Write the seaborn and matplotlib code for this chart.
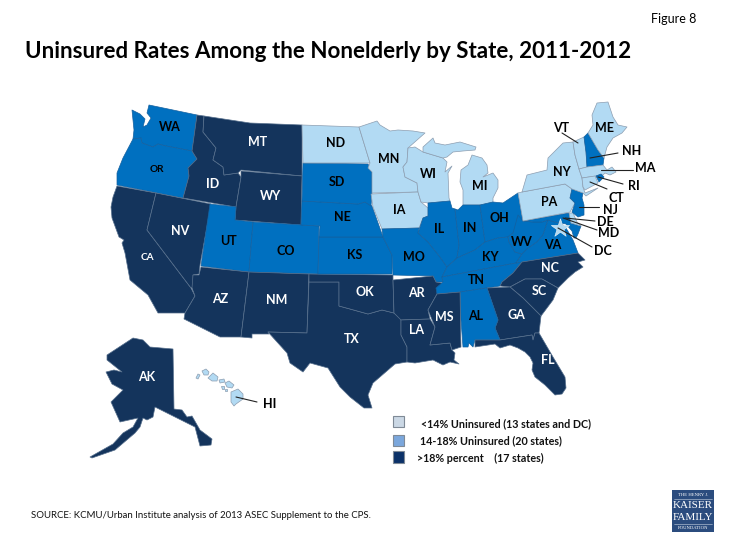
import matplotlib
matplotlib.use("Agg")
import matplotlib.pyplot as plt
from matplotlib.patches import Polygon, Rectangle
import seaborn as sns

sns.set_theme(style="white")
plt.rcParams['font.family'] = ['Lato', 'DejaVu Sans']

TITLE = "Uninsured Rates Among the Nonelderly by State, 2011-2012"
FIGURE_TAG = "Figure 8"
SOURCE = "SOURCE: KCMU/Urban Institute analysis of 2013 ASEC Supplement to the CPS."

TIER_LOW = ["ND","MN","IA","WI","MI","PA","NY","VT","ME","MA","CT","DE","HI","DC"]
TIER_MID = ["WA","OR","UT","CO","SD","NE","KS","MO","IL","IN","OH","KY","TN","WV","VA","AL","NH","NJ","RI","MD"]
TIER_HIGH = ["CA","NV","ID","MT","WY","AZ","NM","TX","OK","AR","LA","MS","GA","SC","NC","FL","AK"]

LEGEND_TEXT = ["<14% Uninsured (13 states and DC)", "14-18% Uninsured (20 states)", ">18% percent    (17 states)"]
LEGEND_COLORS = ["#CBD8E5", "#7BA7DC", "#0B3168"]
TIER_COLORS = {"low": "#B2DAF3", "mid": "#0070C0", "high": "#14345C"}
TIER_EDGES = {"low": "#8C9DB0", "mid": "#14609F", "high": "#566F8C"}

# Digitised state outlines, in reference-picture coordinates
OUTLINES = {
 "WA": [[(132,110),(140,114),(145,119),(143,127),(147,125),(151,118),(147,113),(149,105),(197,115),(192,151),(166,146),(158,144),(153,147),(142,143),(141,138),(133,139),(134,130)]],
 "OR": [[(133,139),(141,138),(142,143),(153,147),(158,144),(166,146),(192,151),(197,159),(188,168),(189,176),(183,198),(117,185),(117,173),(123,158)]],
 "CA": [[(117,186),(156,193),(147,230),(191,288),(195,296),(185,313),(158,313),(148,295),(130,280),(125,253),(122,243),(124,240),(119,237),(112,218),(111,207),(113,197)]],
 "NV": [[(156,193),(211,204),(200,265),(199,274),(193,275),(193,287),(191,288),(147,230)]],
 "ID": [[(197,115),(204,116),(203,132),(216,148),(213,160),(223,167),(224,175),(238,173),(241,177),(236,207),(183,198),(189,176),(188,168),(197,159),(192,151)]],
 "MT": [[(204,116),(250,123),(302,125),(302,176),(241,170),(238,173),(224,175),(223,167),(213,160),(216,148),(203,132)]],
 "WY": [[(241,171),(302,176),(301,225),(235,220),(236,207),(241,177)]],
 "UT": [[(210,204),(236,207),(235,220),(253,222),(249,272),(201,266)]],
 "CO": [[(253,222),(319,226),(318,274),(249,272)]],
 "AZ": [[(201,267),(249,272),(241,337),(220,337),(184,319),(185,313),(195,296),(192,288),(193,275),(199,275)]],
 "NM": [[(249,272),(309,274),(307,333),(268,332),(269,334),(252,334),(252,338),(241,337)]],
 "TX": [[(309,282),(339,282),(339,306),(350,309),(368,314),(382,310),(394,313),(401,319),(401,335),(407,347),(407,362),(395,364),(373,383),(368,395),(372,408),(364,408),(350,397),(340,387),(328,368),(310,363),(303,372),(290,363),(287,353),(268,332),(307,333)]],
 "OK": [[(309,274),(393,275),(393,280),(394,313),(382,310),(368,314),(350,309),(339,306),(339,282),(309,282)]],
 "KS": [[(319,237),(383,237),(387,245),(392,255),(392,274),(318,274)]],
 "NE": [[(302,201),(358,204),(365,202),(372,206),(383,237),(319,237),(320,226),(301,225)]],
 "SD": [[(303,163),(368,164),(372,172),(372,193),(371,206),(365,202),(358,204),(302,201)]],
 "ND": [[(302,125),(359,127),(370,163),(303,163)]],
 "MN": [[(359,127),(377,121),(380,125),(390,131),(398,130),(413,131),(425,133),(408,148),(407,162),(403,167),(405,177),(417,183),(418,192),(372,193),(372,172),(368,168),(370,163)]],
 "IA": [[(371,194),(418,192),(421,202),(428,208),(428,216),(423,218),(419,228),(382,229),(373,207)]],
 "MO": [[(382,229),(419,228),(418,233),(428,242),(440,257),(447,267),(442,277),(443,282),(436,282),(433,276),(393,275),(392,255),(387,245),(383,237)]],
 "AR": [[(393,280),(433,276),(436,282),(442,283),(437,294),(428,310),(430,319),(401,320),(394,313)]],
 "LA": [[(401,320),(430,319),(435,327),(430,345),(450,343),(452,350),(455,353),(454,360),(459,364),(450,362),(443,365),(433,360),(415,363),(407,362),(407,347),(401,335)]],
 "WI": [[(408,148),(415,147),(423,152),(443,158),(447,162),(445,172),(452,166),(448,173),(449,198),(450,201),(428,203),(421,202),(418,192),(417,183),(405,177),(403,167),(407,162)]],
 "MI": [[(423,152),(423,147),(433,138),(435,143),(445,145),(460,142),(476,147),(475,150),(463,151),(453,152),(447,157),(443,158)],
        [(463,205),(463,190),(460,182),(461,170),(468,165),(472,155),(482,158),(487,165),(488,173),(483,177),(493,173),(498,180),(498,188),(493,198),(493,202),(480,205)]],
 "IL": [[(428,203),(450,201),(452,208),(455,209),(459,245),(457,258),(447,267),(440,257),(428,242),(418,233),(423,218),(428,216),(428,208)]],
 "IN": [[(455,209),(458,210),(463,205),(480,205),(485,242),(475,250),(457,258),(459,245)]],
 "OH": [[(480,205),(493,202),(503,203),(518,193),(523,221),(513,233),(508,237),(498,238),(485,242)]],
 "KY": [[(442,277),(447,267),(457,258),(475,250),(485,242),(498,238),(508,237),(509,242),(515,252),(522,254),(516,263)]],
 "TN": [[(442,277),(516,263),(522,262),(513,273),(502,282),(500,286),(487,288),(460,292),(437,294),(436,288),(443,282)]],
 "WV": [[(513,233),(518,215),(523,221),(533,222),(542,222),(548,220),(543,235),(537,242),(527,249),(522,254),(515,252),(509,242),(508,237)]],
 "VA": [[(516,263),(578,253),(573,240),(566,228),(562,224),(555,222),(548,220),(543,235),(537,242),(527,249),(522,254)]],
 "MD": [[(523,221),(569,213),(571,223),(581,226),(578,234),(576,238),(574,238),(572,231),(566,224),(555,222),(548,220),(542,222),(533,222)]],
 "DE": [[(569,213),(573,213),(577,222),(581,226),(571,223)]],
 "PA": [[(518,193),(522,192),(565,184),(572,189),(570,198),(575,203),(570,212),(523,221)]],
 "NJ": [[(572,189),(583,193),(582,198),(584,205),(584,215),(578,217),(572,212),(575,203),(570,198)]],
 "NY": [[(522,192),(527,175),(547,170),(548,158),(563,143),(573,142),(575,155),(579,169),(582,178),(583,187),(585,193),(598,188),(586,196),(583,193),(572,189),(565,184)]],
 "VT": [[(573,142),(584,137),(586,152),(587,167),(579,169),(575,155)]],
 "NH": [[(584,137),(588,133),(598,150),(604,158),(603,165),(587,167),(586,152)]],
 "ME": [[(588,133),(593,125),(592,115),(597,103),(608,102),(613,117),(618,125),(627,127),(622,133),(613,138),(607,147),(604,158),(598,150)]],
 "MA": [[(579,169),(587,167),(603,165),(607,170),(612,167),(616,172),(610,175),(605,173),(603,175),(582,178)]],
 "CT": [[(582,178),(595,176),(598,183),(585,190),(583,187)]],
 "RI": [[(596,176),(601,174),(604,177),(599,182)]],
 "NC": [[(522,262),(578,253),(585,260),(578,262),(583,267),(575,272),(568,278),(558,288),(542,279),(525,279),(510,287),(500,286),(502,282),(513,273)]],
 "SC": [[(510,287),(525,279),(542,279),(558,288),(553,300),(541,316),(523,298)]],
 "GA": [[(487,288),(510,287),(523,298),(541,316),(539,333),(535,333),(533,340),(532,335),(500,340),(495,328),(498,320)]],
 "AL": [[(460,292),(487,288),(498,320),(495,328),(500,340),(475,340),(473,347),(469,343),(468,347),(463,347),(461,320)]],
 "MS": [[(437,294),(460,292),(461,347),(452,350),(450,343),(430,345),(435,327),(428,310)]],
 "FL": [[(500,340),(532,335),(533,340),(535,333),(539,333),(553,357),(565,377),(566,388),(562,394),(555,395),(545,385),(535,377),(532,370),(533,363),(530,357),(525,352),(518,348),(510,345),(500,348),(495,344),(475,347),(475,340)]],
 "AK": [[(107,355),(133,338),(143,340),(150,347),(173,349),(174,409),(182,410),(187,417),(192,416),(200,430),(212,439),(211,445),(200,446),(195,427),(155,407),(153,417),(147,420),(143,418),(140,427),(135,433),(115,450),(92,458),(90,457),(113,444),(123,433),(133,427),(138,418),(120,422),(111,402),(123,390),(112,384),(106,372),(114,370),(122,372),(107,360)]],
 "HI": [[(202,371),(206,369),(209,372),(208,375),(204,375)],[(198,374),(200,375),(198,379),(196,378)],
        [(208,378),(213,373),(218,377),(217,381),(212,381)],[(219,380),(224,379),(225,382),(220,383)],
        [(225,383),(229,381),(234,385),(232,388),(227,387)],[(221,386),(224,386),(224,389),(222,389)],
        [(225,389),(227,389),(227,391),(225,391)],
        [(231,392),(238,389),(243,394),(243,399),(236,404),(234,406),(231,402)]],
}

LABELS = {"WA":(170,127),"OR":(157,170),"CA":(147,258),"NV":(180,231),"ID":(213,184),"MT":(258,142),"WY":(271,196),
 "UT":(228,241),"CO":(286,251),"AZ":(220,299),"NM":(277,300),"ND":(336,143),"SD":(337,182),"NE":(342,217),"KS":(355,255),
 "OK":(365,292),"TX":(352,339),"MN":(389,159),"IA":(399,210),"MO":(414,257),"AR":(416,293),"LA":(417,330),"WI":(428,174),
 "IL":(439,229),"IN":(470,228),"MI":(480,186),"OH":(499,218),"KY":(490,257),"TN":(476,280),"MS":(444,317),"AL":(476,316),
 "GA":(516,315),"SC":(539,291),"NC":(550,268),"FL":(548,360),"WV":(522,242),"VA":(553,245),"PA":(549,202),"NY":(562,172),
 "NJ":(610,210),"DE":(605,222),"MD":(609,233),"DC":(603,251),"CT":(616,198),"RI":(634,186),"MA":(645,168),"NH":(632,151),
 "VT":(561,128),"ME":(605,128),"AK":(147,377),"HI":(270,404)}
SMALL_LABELS = ["OR", "CA"]

LEADERS = {"VT":[(562,133),(578,143)],"NH":[(618,153),(590,158)],"MA":[(633,170),(601,170)],"RI":[(623,184),(598,177)],
 "CT":[(607,189),(590,182)],"NJ":[(599,207),(579,207)],"DE":[(595,221),(565,218)],"MD":[(597,230),(563,218)],
 "DC":[(592,247),(558,228)],"HI":[(257,402),(236,397)]}

fig = plt.figure(figsize=(7.35, 5.51), dpi=100, facecolor="white")
ax = fig.add_axes([0, 0, 1, 1])
ax.set_xlim(0, 735)
ax.set_ylim(551, 0)
ax.axis("off")

tier_of = {}
for name, codes in (("low", TIER_LOW), ("mid", TIER_MID), ("high", TIER_HIGH)):
    for c in codes:
        tier_of[c] = name

for code, parts in OUTLINES.items():
    t = tier_of[code]
    for part in parts:
        ax.add_patch(Polygon(part, closed=True, facecolor=TIER_COLORS[t], edgecolor=TIER_EDGES[t], linewidth=0.5, joinstyle="round"))

# DC marker
ax.scatter([560], [228], marker="*", s=190, c=TIER_COLORS["low"], edgecolors="#DDEBF2", linewidths=0.5, zorder=3)

for code, (a, b) in LEADERS.items():
    ax.plot([a[0], b[0]], [a[1], b[1]], color="#222222", lw=0.8, zorder=4)

for code, (x, y) in LABELS.items():
    col = "white" if tier_of[code] == "high" else "black"
    ax.text(x, y, code, ha="center", va="center", fontsize=7.2 if code in SMALL_LABELS else 9, fontweight="bold", color=col, zorder=5)

ax.text(25, 51, TITLE, fontsize=16.15, fontweight="bold", color="black", ha="left", va="center")
ax.text(696, 19, FIGURE_TAG, fontsize=9, color="black", ha="right", va="center")
ax.text(31, 515, SOURCE, fontsize=6.9, color="#111111", ha="left", va="center")

for (y0, y1), color, text, tx, ty in zip([(416, 427), (435, 446), (451, 463)], LEGEND_COLORS, LEGEND_TEXT,
                                         [421, 420, 417], [424, 441, 458]):
    ax.add_patch(Rectangle((393.5, y0), 11, y1 - y0, facecolor=color, edgecolor="#7F8A96", linewidth=0.8))
    ax.text(tx, ty, text, fontsize=7.75, fontweight="bold", color="#111111", ha="left", va="center")

# Foundation logo
ax.add_patch(Rectangle((672, 490), 42, 42, facecolor="#2B4C7E", edgecolor="none"))
for txt, y, fs in (("THE HENRY J.", 495, 3.4), ("KAISER", 505, 8), ("FAMILY", 517, 8), ("FOUNDATION", 528, 3.4)):
    ax.text(693, y, txt, fontsize=fs, family="Liberation Serif", color="white", ha="center", va="center")
ax.plot([674, 712], [499, 499], color="#C8D3E2", lw=0.4)
ax.plot([674, 712], [524, 524], color="#C8D3E2", lw=0.4)

fig.savefig("out.png", dpi=100, facecolor="white")
